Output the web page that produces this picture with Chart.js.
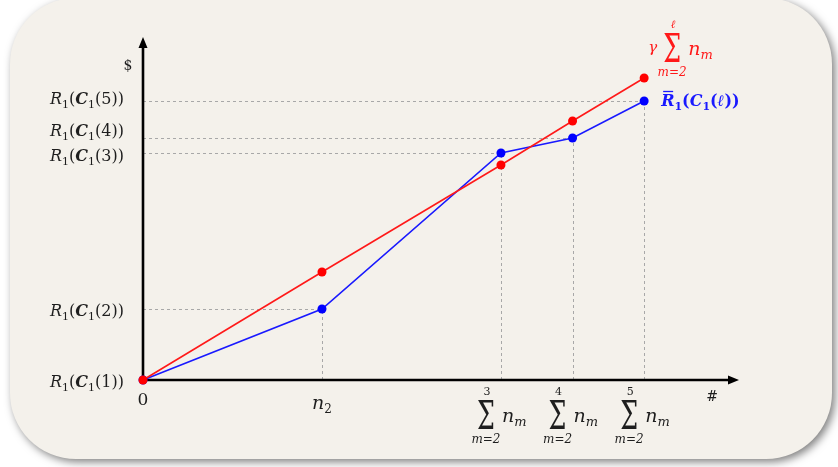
<!DOCTYPE html>
<html>
<head>
<meta charset="utf-8">
<script src="https://cdn.jsdelivr.net/npm/chart.js@4/dist/chart.umd.min.js"></script>
<style>
  html, body { margin: 0; padding: 0; background: #ffffff; }
  #wrap { width: 838px; height: 467px; }
</style>
</head>
<body>
<div id="wrap"><canvas id="c" width="838" height="467"></canvas></div>
<script>
// Horizontal positions of the cumulative counts: 0, n2, sum_{m=2}^{3}, sum^{4}, sum^{5}
const xPositions = [0, 1, 2, 2.4, 2.8];
// Upper index of each x label (null for the plain ones)
const xLabels = ['0', 'n2', '3', '4', '5'];
// Revenue curve R̄1(C1(ℓ)) (blue) and the linear bound γ·Σ n_m (red)
const blueValues = [0, 0.71, 2.27, 2.42, 2.79];
const redValues = [0, 1.08, 2.15, 2.59, 3.02];
// Y tick labels: argument of C1(·)
const yTickArgs = ['1', '2', '3', '4', '5'];

const RED = 'rgb(255,25,25)';
const BLUE = 'rgb(25,25,255)';
const SERIF = '"DejaVu Serif"';

function font(size, style) { return (style || '') + ' ' + size + 'px ' + SERIF; }

// Draw a run of styled text pieces; align 'left' | 'right' | 'center'
function drawRich(ctx, parts, x, y, align, color) {
  ctx.save();
  ctx.fillStyle = color;
  ctx.textBaseline = 'alphabetic';
  ctx.textAlign = 'left';
  let w = 0;
  parts.forEach(p => { ctx.font = p.f; p.w = ctx.measureText(p.t).width + (p.gap || 0); w += p.w; });
  let cx = align === 'right' ? x - w : align === 'center' ? x - w / 2 : x;
  const pos = [];
  parts.forEach(p => { ctx.font = p.f; ctx.fillText(p.t, cx, y + (p.dy || 0)); pos.push(cx); cx += p.w; });
  ctx.restore();
  return pos;
}

function rcLabel(arg) {
  return [
    { t: 'R', f: font(16, 'italic') },
    { t: '1', f: font(11), dy: 4 },
    { t: '(', f: font(16) },
    { t: 'C', f: font(16, 'bold italic') },
    { t: '1', f: font(11), dy: 4 },
    { t: '(', f: font(16) },
    { t: arg, f: font(16) },
    { t: '))', f: font(16) }
  ];
}

// Σ with limits followed by n_m; cx is the centre of Σ, top is the top of Σ
function drawSum(ctx, cx, top, upper, color, upperItalic) {
  ctx.save();
  ctx.fillStyle = color;
  ctx.textAlign = 'center';
  ctx.textBaseline = 'alphabetic';
  // Σ stretched vertically like a display-style operator
  ctx.save();
  ctx.translate(cx, top + 30);
  ctx.scale(1.15, 1.8);
  ctx.font = font(22);
  ctx.fillText('\u03A3', 0, 0);
  ctx.restore();
  ctx.font = font(11, upperItalic ? 'italic' : '');
  ctx.fillText(upper, cx + 1, top - 4);
  ctx.font = font(12, 'italic');
  ctx.fillText('m=2', cx, top + 44);
  ctx.restore();
  drawRich(ctx, [
    { t: 'n', f: font(19, 'italic') },
    { t: 'm', f: font(13, 'italic'), dy: 4 }
  ], cx + 16, top + 23, 'left', color);
}

const decorPlugin = {
  id: 'decor',
  beforeDraw(chart) {
    const ctx = chart.ctx;
    ctx.save();
    ctx.fillStyle = '#ffffff';
    ctx.fillRect(0, 0, chart.width, chart.height);
    // rounded panel with soft shadow
    ctx.shadowColor = 'rgba(0,0,0,0.5)';
    ctx.shadowBlur = 8;
    ctx.shadowOffsetX = 3;
    ctx.shadowOffsetY = 3;
    ctx.fillStyle = '#f4f1eb';
    ctx.beginPath();
    ctx.roundRect(10, -2, 822, 461, 66);
    ctx.fill();
    ctx.restore();
  },
  beforeDatasetsDraw(chart) {
    const ctx = chart.ctx;
    const xs = chart.scales.x, ys = chart.scales.y;
    const x0 = xs.getPixelForValue(0), y0 = ys.getPixelForValue(0);
    // dashed guide lines to the blue points
    ctx.save();
    ctx.strokeStyle = '#a8a8a8';
    ctx.lineWidth = 1;
    ctx.setLineDash([3, 3]);
    for (let i = 1; i < xPositions.length; i++) {
      const px = Math.round(xs.getPixelForValue(xPositions[i])) + 0.5;
      const py = Math.round(ys.getPixelForValue(blueValues[i])) + 0.5;
      ctx.beginPath();
      ctx.moveTo(x0, py); ctx.lineTo(px, py);
      ctx.moveTo(px, y0); ctx.lineTo(px, py);
      ctx.stroke();
    }
    ctx.restore();
    // axes with arrow heads
    const xEnd = xs.getPixelForValue(xs.max), yEnd = ys.getPixelForValue(ys.max);
    ctx.save();
    ctx.strokeStyle = '#000';
    ctx.fillStyle = '#000';
    ctx.lineWidth = 2.6;
    ctx.beginPath();
    ctx.moveTo(x0, y0 + 1); ctx.lineTo(x0, yEnd + 8);
    ctx.moveTo(x0 - 1, y0); ctx.lineTo(xEnd - 8, y0);
    ctx.stroke();
    ctx.beginPath();
    ctx.moveTo(x0, yEnd); ctx.lineTo(x0 - 4.5, yEnd + 11); ctx.lineTo(x0 + 4.5, yEnd + 11); ctx.closePath();
    ctx.moveTo(xEnd, y0); ctx.lineTo(xEnd - 11, y0 - 4.5); ctx.lineTo(xEnd - 11, y0 + 4.5); ctx.closePath();
    ctx.fill();
    ctx.restore();
  },
  afterDatasetsDraw(chart) {
    const ctx = chart.ctx;
    const xs = chart.scales.x, ys = chart.scales.y;
    const x0 = xs.getPixelForValue(0), y0 = ys.getPixelForValue(0);
    const ink = '#1e1e1e';
    // y tick labels at the blue values; 3 and 4 nudged apart
    const nudge = [2, 2, 3, -7, -2];
    yTickArgs.forEach((a, i) => {
      const py = ys.getPixelForValue(blueValues[i]) + nudge[i] + 5;
      drawRich(ctx, rcLabel(a), x0 - 19, py, 'right', ink);
    });
    // axis symbols
    ctx.save();
    ctx.fillStyle = ink;
    ctx.textAlign = 'center';
    ctx.textBaseline = 'middle';
    ctx.font = font(14);
    ctx.fillText('$', x0 - 15, ys.getPixelForValue(ys.max) + 29);
    ctx.fillText('#', xs.getPixelForValue(xs.max) - 27, y0 + 17);
    ctx.font = font(17);
    ctx.fillText(xLabels[0], x0, y0 + 21);
    ctx.restore();
    // x labels
    drawRich(ctx, [
      { t: 'n', f: font(19, 'italic') },
      { t: '2', f: font(12), dy: 4 }
    ], xs.getPixelForValue(xPositions[1]), y0 + 29, 'center', ink);
    for (let i = 2; i < xPositions.length; i++) {
      const px = xs.getPixelForValue(xPositions[i]);
      drawSum(ctx, px - 15, y0 + 19, xLabels[i], ink, false);
    }
    // series annotations
    const rx = xs.getPixelForValue(xPositions[4]);
    const ryTop = ys.getPixelForValue(redValues[4]);
    drawRich(ctx, [{ t: '\u03B3', f: font(15, 'italic') }], rx + 4, ryTop - 26, 'left', RED);
    drawSum(ctx, rx + 28, ryTop - 46, '\u2113', RED, true);
    const by = ys.getPixelForValue(blueValues[4]) + 5;
    const pos = drawRich(ctx, [
      { t: 'R', f: font(16, 'bold italic') },
      { t: '1', f: font(11, 'bold'), dy: 4 },
      { t: '(', f: font(16, 'bold') },
      { t: 'C', f: font(16, 'bold italic') },
      { t: '1', f: font(11, 'bold'), dy: 4 },
      { t: '(', f: font(16, 'bold') },
      { t: '\u2113', f: font(16, 'bold italic') },
      { t: '))', f: font(16, 'bold') }
    ], rx + 17, by, 'left', BLUE);
    ctx.save();
    ctx.strokeStyle = BLUE;
    ctx.lineWidth = 1.3;
    ctx.beginPath();
    ctx.moveTo(pos[0] + 2, by - 14.5); ctx.lineTo(pos[0] + 12, by - 14.5);
    ctx.stroke();
    ctx.restore();
  }
};

const toPts = vals => vals.map((v, i) => ({ x: xPositions[i], y: v }));

new Chart(document.getElementById('c'), {
  type: 'line',
  data: {
    datasets: [
      {
        label: 'γ Σ n_m',
        data: toPts(redValues),
        borderColor: RED,
        backgroundColor: 'rgb(255,0,0)',
        borderWidth: 1.6,
        pointRadius: 4.5,
        pointBorderWidth: 0,
        tension: 0,
        clip: false
      },
      {
        label: 'R̄1(C1(ℓ))',
        data: toPts(blueValues),
        borderColor: BLUE,
        backgroundColor: 'rgb(0,0,255)',
        borderWidth: 1.6,
        pointRadius: 4.5,
        pointBorderWidth: 0,
        tension: 0,
        clip: false
      }
    ]
  },
  options: {
    responsive: false,
    animation: false,
    devicePixelRatio: 1,
    layout: { padding: { left: 143, right: 99, top: 37, bottom: 87 } },
    plugins: { legend: { display: false }, tooltip: { enabled: false } },
    scales: {
      x: { type: 'linear', min: 0, max: 3.33, display: false },
      y: { type: 'linear', min: 0, max: 3.43, display: false }
    }
  },
  plugins: [decorPlugin]
});
</script>
</body>
</html>
